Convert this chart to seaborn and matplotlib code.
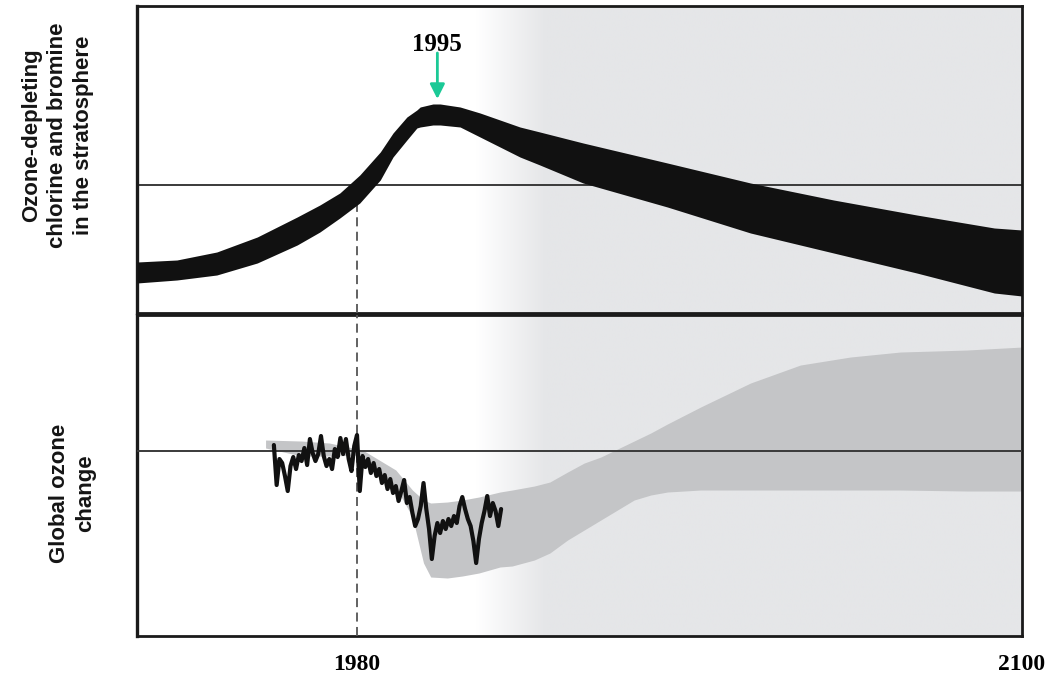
import matplotlib
matplotlib.use("Agg")
import matplotlib.pyplot as plt
import numpy as np
import pandas as pd
import seaborn as sns

# ---- data (arbitrary units, reference line = 0) ----
# top panel: ozone-depleting chlorine + bromine band
cl_years = [1940.3, 1947.5, 1954.7, 1962.0, 1969.2, 1973.3, 1976.9, 1980.5,
            1984.2, 1986.5, 1989.0, 1990.8, 1991.4, 1993.7, 1995.0, 1998.6,
            2002.2, 2005.8, 2009.4, 2013.0, 2020.8, 2036.0, 2051.0, 2066.0,
            2081.0, 2095.0, 2100.0]
cl_upper = [-7.7, -7.5, -6.7, -5.2, -3.2, -2.0, -0.8, 1.0,
            3.3, 5.2, 6.8, 7.5, 7.8, 8.1, 8.1, 7.8,
            7.2, 6.5, 5.8, 5.3, 4.2, 2.2, 0.2, -1.5,
            -3.0, -4.3, -4.5]
cl_lower = [-9.8, -9.5, -9.0, -7.8, -6.0, -4.7, -3.3, -1.8,
            0.5, 2.8, 4.5, 5.7, 5.8, 6.0, 6.0, 5.8,
            4.8, 3.8, 2.8, 2.0, 0.2, -2.2, -4.8, -6.8,
            -8.8, -10.8, -11.1]

# bottom panel: model envelope of global ozone change
env_years = [1963.5, 1970, 1975, 1981, 1987, 1990, 1992, 1993.3, 1996.3, 1999,
             2002, 2005.8, 2008, 2012, 2014.8, 2018, 2021, 2024, 2030, 2033,
             2036, 2042, 2051, 2060, 2069, 2078, 2090, 2100]
env_upper = [1.1, 1.0, 0.8, 0.1, -1.9, -3.9, -4.9, -5.2, -5.1, -4.9,
             -4.6, -4.1, -3.9, -3.5, -3.1, -2.1, -1.2, -0.6, 1.0, 1.8,
             2.7, 4.4, 6.8, 8.6, 9.4, 9.9, 10.1, 10.4]
env_lower = [0.3, -0.5, -0.5, -0.4, -3.6, -6.6, -11.2, -12.6, -12.7, -12.5,
             -12.2, -11.6, -11.5, -10.9, -10.2, -8.9, -7.9, -6.9, -4.9, -4.4,
             -4.1, -3.9, -3.9, -3.9, -3.9, -3.9, -4.0, -4.0]

# bottom panel: observed global ozone change
obs_years = [1965.0 + 0.5 * i for i in range(83)]
obs_values = [0.6, -3.4, -0.8, -1.2, -2.5, -4.0, -1.5, -0.6, -1.8, -0.4,
              -1.0, 0.3, -1.4, 1.2, -0.2, -1.0, -0.3, 1.5, -0.5, -1.5,
              -0.8, -1.8, 0.2, -0.6, 1.3, -0.3, 1.2, -0.8, -2.0, 0.5,
              1.6, -4.0, -0.5, -1.6, -0.8, -2.2, -1.2, -2.5, -1.8, -3.2,
              -2.4, -3.8, -2.8, -4.2, -3.5, -5.0, -4.0, -2.9, -5.2, -4.6,
              -6.2, -7.5, -6.8, -5.5, -3.2, -5.8, -7.8, -10.8, -8.5, -7.2,
              -8.2, -7.0, -7.8, -6.8, -7.5, -6.5, -7.2, -5.5, -4.6, -5.8,
              -6.8, -7.5, -9.0, -11.2, -8.8, -7.2, -6.0, -4.5, -6.5, -5.2,
              -6.0, -7.5, -5.8]

x_ticks = [1980, 2100]
peak_year = 1994.5
peak_label = "1995"
top_ylabel = "Ozone-depleting\nchlorine and bromine\nin the stratosphere"
bottom_ylabel = "Global ozone\nchange"

obs = pd.DataFrame({"year": obs_years, "ozone": obs_values})

sns.set_style("white")
plt.rcParams["font.family"] = ["Liberation Sans", "DejaVu Sans"]

fig = plt.figure(figsize=(10.53, 6.8), dpi=100)
ax1 = fig.add_axes([0.1301, 0.5397, 0.8405, 0.4515])
ax2 = fig.add_axes([0.1301, 0.0647, 0.8405, 0.4720])

xlim = (1940.3, 2100)
grey_bg = np.array([229, 230, 232]) / 255.0


def background(ax, ylim):
    # white before ~2002 fading into light grey by ~2014
    xs = np.linspace(xlim[0], xlim[1], 600)
    t = np.clip((xs - 2001.5) / 12.5, 0, 1)
    img = np.ones((1, len(xs), 3)) * (1 - t)[None, :, None] + grey_bg[None, None, :] * t[None, :, None]
    ax.imshow(img, extent=[xlim[0], xlim[1], ylim[0], ylim[1]], aspect="auto",
              zorder=0, interpolation="bilinear")


# ---- top panel ----
ylim1 = (-12.8, 17.9)
background(ax1, ylim1)
ax1.axhline(0, color="#3a3a3a", lw=1.4, zorder=2)
ax1.fill_between(cl_years, cl_lower, cl_upper, color="#111111", lw=0, zorder=4)
ax1.plot([1980, 1980], [ylim1[0], -1.6], color="#555555", lw=1.3,
         ls=(0, (5, 3)), zorder=3)
ax1.text(peak_year, 14.0, peak_label, ha="center", va="center", fontsize=18,
         fontweight="bold", family="Liberation Serif", color="black", zorder=6)
ax1.annotate("", xy=(peak_year, 8.6), xytext=(peak_year, 13.2),
             arrowprops=dict(arrowstyle="-|>", color="#1bc996", lw=2,
                             mutation_scale=22, shrinkA=0, shrinkB=0), zorder=6)
ax1.set_xlim(xlim)
ax1.set_ylim(ylim1)
ax1.set_xticks([])
ax1.set_yticks([])

# ---- bottom panel ----
ylim2 = (-18.5, 13.6)
background(ax2, ylim2)
ax2.fill_between(env_years, env_lower, env_upper, color="#c4c5c7", lw=0, zorder=2)
ax2.axhline(0, color="#3a3a3a", lw=1.4, zorder=3)
ax2.axvline(1980, color="#555555", lw=1.3, ls=(0, (5, 3)), zorder=3)
sns.lineplot(data=obs, x="year", y="ozone", ax=ax2, color="#111111", lw=3,
             zorder=5)
ax2.set_xlim(xlim)
ax2.set_ylim(ylim2)
ax2.set_yticks([])
ax2.set_xticks(x_ticks)
ax2.set_xticklabels([str(v) for v in x_ticks], fontsize=17, fontweight="bold",
                    family="Liberation Serif", color="black")
ax2.tick_params(axis="x", length=0, pad=13)
ax2.set_xlabel("")
ax2.set_ylabel("")

for ax in (ax1, ax2):
    for s in ax.spines.values():
        s.set_visible(True)
        s.set_color("#1a1a1a")
        s.set_linewidth(2)
    ax.spines["left"].set_linewidth(2.4)

fig.text(0.055, 1 - 135 / 680, top_ylabel, rotation=90, ha="center",
         va="center", fontsize=16, fontweight="bold", color="#151515",
         linespacing=1.3)
fig.text(0.069, 1 - 493 / 680, bottom_ylabel, rotation=90, ha="center",
         va="center", fontsize=16, fontweight="bold", color="#151515",
         linespacing=1.3)

fig.savefig("out.png", dpi=100)
